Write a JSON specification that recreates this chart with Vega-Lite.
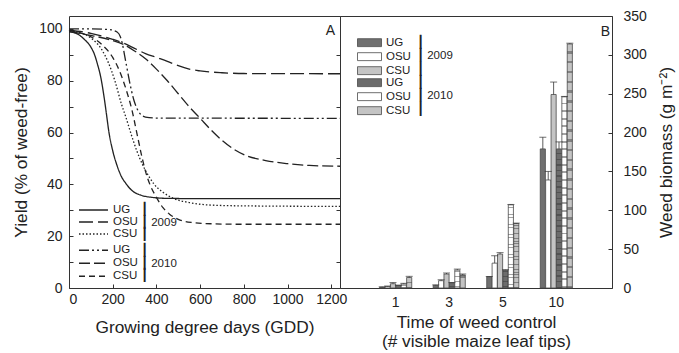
{
  "$schema": "https://vega.github.io/schema/vega-lite/v6.json",
  "padding": {"left": 12, "top": 8, "right": 2, "bottom": 2},
  "spacing": 0,
  "bounds": "flush",
  "config": {
    "font": "Liberation Sans",
    "view": {"stroke": "#333", "strokeWidth": 1},
    "axis": {"labelFontSize": 14, "titleFontSize": 17.3, "titleFontWeight": "normal", "labelColor": "#222", "titleColor": "#222", "domainColor": "#333", "tickColor": "#333", "grid": false},
    "legend": {"labelFontSize": 11.5, "titleFontSize": 11.5, "titleFontWeight": "normal", "labelColor": "#222", "titleColor": "#222", "rowPadding": 0, "padding": 0, "titlePadding": 3, "labelOffset": 4, "titleLineHeight": 12.5, "titleAlign": "left", "orient": "none"}
  },
  "datasets": {
    "curves": [
      {"series": "UG 2009", "gdd": 0, "yield": 99}, {"series": "UG 2009", "gdd": 40, "yield": 98}, {"series": "UG 2009", "gdd": 70, "yield": 96}, {"series": "UG 2009", "gdd": 100, "yield": 93}, {"series": "UG 2009", "gdd": 115, "yield": 90.5}, {"series": "UG 2009", "gdd": 130, "yield": 86.5}, {"series": "UG 2009", "gdd": 145, "yield": 81.5}, {"series": "UG 2009", "gdd": 160, "yield": 74}, {"series": "UG 2009", "gdd": 170, "yield": 68}, {"series": "UG 2009", "gdd": 183, "yield": 60}, {"series": "UG 2009", "gdd": 200, "yield": 53}, {"series": "UG 2009", "gdd": 221, "yield": 47}, {"series": "UG 2009", "gdd": 240, "yield": 43}, {"series": "UG 2009", "gdd": 259, "yield": 40.5}, {"series": "UG 2009", "gdd": 290, "yield": 37.5}, {"series": "UG 2009", "gdd": 330, "yield": 35.8}, {"series": "UG 2009", "gdd": 380, "yield": 35}, {"series": "UG 2009", "gdd": 450, "yield": 34.6}, {"series": "UG 2009", "gdd": 600, "yield": 34.5}, {"series": "UG 2009", "gdd": 1240, "yield": 34.5},
      {"series": "OSU 2009", "gdd": 0, "yield": 99.5}, {"series": "OSU 2009", "gdd": 100, "yield": 98.3}, {"series": "OSU 2009", "gdd": 200, "yield": 96}, {"series": "OSU 2009", "gdd": 250, "yield": 94.5}, {"series": "OSU 2009", "gdd": 300, "yield": 92.5}, {"series": "OSU 2009", "gdd": 350, "yield": 90.5}, {"series": "OSU 2009", "gdd": 400, "yield": 89}, {"series": "OSU 2009", "gdd": 450, "yield": 87.5}, {"series": "OSU 2009", "gdd": 500, "yield": 85.8}, {"series": "OSU 2009", "gdd": 550, "yield": 84.5}, {"series": "OSU 2009", "gdd": 600, "yield": 83.8}, {"series": "OSU 2009", "gdd": 700, "yield": 83.1}, {"series": "OSU 2009", "gdd": 800, "yield": 82.8}, {"series": "OSU 2009", "gdd": 1240, "yield": 82.7},
      {"series": "CSU 2009", "gdd": 0, "yield": 99}, {"series": "CSU 2009", "gdd": 50, "yield": 98.5}, {"series": "CSU 2009", "gdd": 100, "yield": 96.5}, {"series": "CSU 2009", "gdd": 150, "yield": 92}, {"series": "CSU 2009", "gdd": 180, "yield": 87}, {"series": "CSU 2009", "gdd": 210, "yield": 80}, {"series": "CSU 2009", "gdd": 240, "yield": 71}, {"series": "CSU 2009", "gdd": 260, "yield": 66}, {"series": "CSU 2009", "gdd": 282, "yield": 60}, {"series": "CSU 2009", "gdd": 310, "yield": 53}, {"series": "CSU 2009", "gdd": 340, "yield": 47}, {"series": "CSU 2009", "gdd": 370, "yield": 42.5}, {"series": "CSU 2009", "gdd": 390, "yield": 40}, {"series": "CSU 2009", "gdd": 430, "yield": 37}, {"series": "CSU 2009", "gdd": 480, "yield": 34.5}, {"series": "CSU 2009", "gdd": 550, "yield": 33}, {"series": "CSU 2009", "gdd": 650, "yield": 32}, {"series": "CSU 2009", "gdd": 800, "yield": 31.7}, {"series": "CSU 2009", "gdd": 1240, "yield": 31.5},
      {"series": "UG 2010", "gdd": 0, "yield": 100}, {"series": "UG 2010", "gdd": 100, "yield": 100}, {"series": "UG 2010", "gdd": 180, "yield": 99.8}, {"series": "UG 2010", "gdd": 220, "yield": 98.8}, {"series": "UG 2010", "gdd": 235, "yield": 97}, {"series": "UG 2010", "gdd": 245, "yield": 94}, {"series": "UG 2010", "gdd": 255, "yield": 89.5}, {"series": "UG 2010", "gdd": 265, "yield": 85}, {"series": "UG 2010", "gdd": 275, "yield": 80.5}, {"series": "UG 2010", "gdd": 285, "yield": 76.5}, {"series": "UG 2010", "gdd": 297, "yield": 72.5}, {"series": "UG 2010", "gdd": 310, "yield": 69.5}, {"series": "UG 2010", "gdd": 328, "yield": 67}, {"series": "UG 2010", "gdd": 350, "yield": 66}, {"series": "UG 2010", "gdd": 400, "yield": 65.6}, {"series": "UG 2010", "gdd": 1240, "yield": 65.5},
      {"series": "OSU 2010", "gdd": 0, "yield": 99}, {"series": "OSU 2010", "gdd": 100, "yield": 97.5}, {"series": "OSU 2010", "gdd": 200, "yield": 95.5}, {"series": "OSU 2010", "gdd": 250, "yield": 94}, {"series": "OSU 2010", "gdd": 300, "yield": 91.5}, {"series": "OSU 2010", "gdd": 350, "yield": 88.5}, {"series": "OSU 2010", "gdd": 400, "yield": 84.5}, {"series": "OSU 2010", "gdd": 450, "yield": 80}, {"series": "OSU 2010", "gdd": 500, "yield": 75}, {"series": "OSU 2010", "gdd": 550, "yield": 70}, {"series": "OSU 2010", "gdd": 600, "yield": 65.5}, {"series": "OSU 2010", "gdd": 650, "yield": 61}, {"series": "OSU 2010", "gdd": 700, "yield": 57}, {"series": "OSU 2010", "gdd": 750, "yield": 53.8}, {"series": "OSU 2010", "gdd": 800, "yield": 51.5}, {"series": "OSU 2010", "gdd": 900, "yield": 49.2}, {"series": "OSU 2010", "gdd": 1000, "yield": 48}, {"series": "OSU 2010", "gdd": 1100, "yield": 47.3}, {"series": "OSU 2010", "gdd": 1240, "yield": 47},
      {"series": "CSU 2010", "gdd": 0, "yield": 99.5}, {"series": "CSU 2010", "gdd": 50, "yield": 98.5}, {"series": "CSU 2010", "gdd": 100, "yield": 97}, {"series": "CSU 2010", "gdd": 150, "yield": 94}, {"series": "CSU 2010", "gdd": 200, "yield": 89}, {"series": "CSU 2010", "gdd": 230, "yield": 84}, {"series": "CSU 2010", "gdd": 260, "yield": 77}, {"series": "CSU 2010", "gdd": 290, "yield": 68}, {"series": "CSU 2010", "gdd": 310, "yield": 60}, {"series": "CSU 2010", "gdd": 330, "yield": 52}, {"series": "CSU 2010", "gdd": 350, "yield": 45}, {"series": "CSU 2010", "gdd": 370, "yield": 40}, {"series": "CSU 2010", "gdd": 400, "yield": 35}, {"series": "CSU 2010", "gdd": 430, "yield": 31}, {"series": "CSU 2010", "gdd": 460, "yield": 28.5}, {"series": "CSU 2010", "gdd": 500, "yield": 26.5}, {"series": "CSU 2010", "gdd": 560, "yield": 25.3}, {"series": "CSU 2010", "gdd": 650, "yield": 24.8}, {"series": "CSU 2010", "gdd": 800, "yield": 24.6}, {"series": "CSU 2010", "gdd": 1240, "yield": 24.6}
    ],
    "bars": [
      {"leaf": "1", "series": "UG 2009", "biomass": 1, "upper": 1.5},
      {"leaf": "1", "series": "OSU 2009", "biomass": 2, "upper": 2.5},
      {"leaf": "1", "series": "CSU 2009", "biomass": 5.5, "upper": 7},
      {"leaf": "1", "series": "UG 2010", "biomass": 3.5, "upper": 3.5},
      {"leaf": "1", "series": "OSU 2010", "biomass": 5, "upper": 6},
      {"leaf": "1", "series": "CSU 2010", "biomass": 13.5, "upper": 15},
      {"leaf": "3", "series": "UG 2009", "biomass": 3.4, "upper": 4},
      {"leaf": "3", "series": "OSU 2009", "biomass": 9.4, "upper": 10.6},
      {"leaf": "3", "series": "CSU 2009", "biomass": 18, "upper": 19.3},
      {"leaf": "3", "series": "UG 2010", "biomass": 6.8, "upper": 7},
      {"leaf": "3", "series": "OSU 2010", "biomass": 23, "upper": 24.3},
      {"leaf": "3", "series": "CSU 2010", "biomass": 16.7, "upper": 18},
      {"leaf": "5", "series": "UG 2009", "biomass": 14.5, "upper": 14.8},
      {"leaf": "5", "series": "OSU 2009", "biomass": 32, "upper": 41.5},
      {"leaf": "5", "series": "CSU 2009", "biomass": 43.7, "upper": 45.5},
      {"leaf": "5", "series": "UG 2010", "biomass": 23, "upper": 23.5},
      {"leaf": "5", "series": "OSU 2010", "biomass": 107, "upper": 107.5},
      {"leaf": "5", "series": "CSU 2010", "biomass": 83, "upper": 83.5},
      {"leaf": "10", "series": "UG 2009", "biomass": 179, "upper": 194},
      {"leaf": "10", "series": "OSU 2009", "biomass": 139, "upper": 150},
      {"leaf": "10", "series": "CSU 2009", "biomass": 249, "upper": 265},
      {"leaf": "10", "series": "UG 2010", "biomass": 179, "upper": 188},
      {"leaf": "10", "series": "OSU 2010", "biomass": 246, "upper": 246.5},
      {"leaf": "10", "series": "CSU 2010", "biomass": 314, "upper": 315}
    ]
  },
  "hconcat": [
    {
      "width": 271,
      "height": 272,
      "data": {"name": "curves"},
      "title": {"text": "A", "anchor": "end", "frame": "group", "offset": -22, "dx": -5, "fontSize": 14, "fontWeight": "normal", "color": "#222"},
      "layer": [
        {
          "transform": [{"filter": {"field": "series", "oneOf": ["UG 2009", "OSU 2009", "CSU 2009"]}}],
          "mark": {"type": "line", "color": "#222", "strokeWidth": 1.3, "interpolate": "monotone"},
          "encoding": {
            "x": {"field": "gdd", "type": "quantitative", "scale": {"domain": [0, 1240], "nice": false}, "axis": {"title": "Growing degree days (GDD)", "values": [0, 100, 200, 300, 400, 500, 600, 700, 800, 900, 1000, 1100, 1200], "format": "d", "labelExpr": "datum.value % 200 == 0 ? datum.label : ''", "tickSize": -4, "labelPadding": 8, "titlePadding": 12, "domain": false}},
            "y": {"field": "yield", "type": "quantitative", "scale": {"domain": [0, 105], "nice": false}, "axis": {"title": "Yield (% of weed-free)", "values": [0, 10, 20, 30, 40, 50, 60, 70, 80, 90, 100], "labelExpr": "datum.value % 20 == 0 ? datum.label : ''", "tickSize": -4, "labelPadding": 11, "titlePadding": 8, "domain": false}},
            "strokeDash": {"field": "series", "type": "nominal", "scale": {"domain": ["UG 2009", "OSU 2009", "CSU 2009"], "range": [[1, 0], [14, 5], [1.5, 2]]}, "legend": {"orient": "none", "legendX": 9, "legendY": 188, "clipHeight": 12, "title": ["┃", "┃ 2009", "┃"], "titleOrient": "right", "labelExpr": "split(datum.label, ' ')[0]", "symbolType": "stroke", "symbolSize": 840, "symbolStrokeColor": "#222", "symbolStrokeWidth": 1.3}}
          }
        },
        {
          "transform": [{"filter": {"field": "series", "oneOf": ["UG 2010", "OSU 2010", "CSU 2010"]}}],
          "mark": {"type": "line", "color": "#222", "strokeWidth": 1.3, "interpolate": "monotone"},
          "encoding": {
            "x": {"field": "gdd", "type": "quantitative"},
            "y": {"field": "yield", "type": "quantitative", "axis": {"orient": "right", "title": null, "values": [10, 30, 50, 70, 90], "labels": false, "tickSize": -4, "domain": false, "minExtent": 0, "maxExtent": 0}},
            "strokeDash": {"field": "series", "type": "nominal", "scale": {"domain": ["UG 2010", "OSU 2010", "CSU 2010"], "range": [[10, 3, 2, 3, 2, 3], [11, 4], [6, 4]]}, "legend": {"orient": "none", "legendX": 9, "legendY": 228, "clipHeight": 12.5, "title": ["┃", "┃ 2010", "┃"], "titleOrient": "right", "labelExpr": "split(datum.label, ' ')[0]", "symbolType": "stroke", "symbolSize": 840, "symbolStrokeColor": "#222", "symbolStrokeWidth": 1.3}}
          }
        }
      ],
      "resolve": {"scale": {"strokeDash": "independent"}, "axis": {"y": "independent"}}
    },
    {
      "width": 272,
      "height": 272,
      "data": {"name": "bars"},
      "title": {"text": "B", "anchor": "end", "frame": "group", "offset": -30, "dx": -2, "fontSize": 14, "fontWeight": "normal", "color": "#222"},
      "encoding": {
        "x": {"field": "leaf", "type": "ordinal", "sort": ["1", "3", "5", "10"], "scale": {"paddingInner": 0.4, "paddingOuter": 0.74}, "axis": {"title": ["Time of weed control", "(# visible maize leaf tips)"], "titleLineHeight": 19, "labelAngle": 0, "ticks": false, "domain": false, "labelPadding": 7, "titlePadding": 4}},
        "y": {"field": "biomass", "type": "quantitative", "scale": {"domain": [0, 350], "nice": false}, "axis": {"orient": "right", "title": "Weed biomass (g m⁻²)", "titleAngle": 270, "values": [0, 50, 100, 150, 200, 250, 300, 350], "tickSize": -4, "labelPadding": 15, "titlePadding": 29, "domain": false}},
        "xOffset": {"field": "series", "type": "nominal", "scale": {"domain": ["UG 2009", "OSU 2009", "CSU 2009", "UG 2010", "OSU 2010", "CSU 2010"], "paddingInner": 0.05}}
      },
      "layer": [
        {
          "transform": [{"filter": {"field": "series", "oneOf": ["UG 2009", "OSU 2009", "CSU 2009"]}}],
          "mark": {"type": "bar", "stroke": "#4a4a4a", "strokeWidth": 0.8},
          "encoding": {
            "fill": {"field": "series", "type": "nominal", "scale": {"domain": ["UG 2009", "OSU 2009", "CSU 2009"], "range": ["#707070", "#ffffff", "#c4c4c4"]}, "legend": {"orient": "none", "legendX": 17, "legendY": 20, "clipHeight": 13.3, "title": ["┃", "┃ 2009", "┃"], "titleOrient": "right", "titlePadding": 6, "titleLineHeight": 13.3, "labelExpr": "split(datum.label, ' ')[0]", "symbolType": "M-1,-0.33H1V0.33H-1Z", "symbolSize": 576, "symbolStrokeColor": "#4a4a4a", "symbolStrokeWidth": 0.8}}
          }
        },
        {
          "transform": [{"filter": {"field": "series", "oneOf": ["UG 2010", "OSU 2010", "CSU 2010"]}}],
          "mark": {"type": "bar", "stroke": "#4a4a4a", "strokeWidth": 0.8},
          "encoding": {
            "fill": {"field": "series", "type": "nominal", "scale": {"domain": ["UG 2010", "OSU 2010", "CSU 2010"], "range": ["#6c6c6c", "#ffffff", "#c4c4c4"]}, "legend": {"orient": "none", "legendX": 17, "legendY": 60, "clipHeight": 13.3, "title": ["┃", "┃ 2010", "┃"], "titleOrient": "right", "titlePadding": 6, "titleLineHeight": 13.3, "labelExpr": "split(datum.label, ' ')[0]", "symbolType": "M-1,-0.33H1V0.33H-1Z", "symbolSize": 576, "symbolStrokeColor": "#4a4a4a", "symbolStrokeWidth": 0.8}}
          }
        },
        {
          "transform": [{"filter": {"field": "series", "oneOf": ["UG 2010", "OSU 2010", "CSU 2010"]}}],
          "mark": {"type": "bar", "strokeWidth": 0, "fill": {"gradient": "linear", "x1": 0, "y1": 0, "x2": 0, "y2": 1, "stops": [{"offset":0,"color":"rgba(50,50,50,0)"},{"offset":0.03,"color":"rgba(50,50,50,0)"},{"offset":0.03,"color":"rgba(50,50,50,0.45)"},{"offset":0.04,"color":"rgba(50,50,50,0.45)"},{"offset":0.04,"color":"rgba(50,50,50,0)"},{"offset":0.07,"color":"rgba(50,50,50,0)"},{"offset":0.07,"color":"rgba(50,50,50,0.45)"},{"offset":0.08,"color":"rgba(50,50,50,0.45)"},{"offset":0.08,"color":"rgba(50,50,50,0)"},{"offset":0.11,"color":"rgba(50,50,50,0)"},{"offset":0.11,"color":"rgba(50,50,50,0.45)"},{"offset":0.12,"color":"rgba(50,50,50,0.45)"},{"offset":0.12,"color":"rgba(50,50,50,0)"},{"offset":0.15,"color":"rgba(50,50,50,0)"},{"offset":0.15,"color":"rgba(50,50,50,0.45)"},{"offset":0.16,"color":"rgba(50,50,50,0.45)"},{"offset":0.16,"color":"rgba(50,50,50,0)"},{"offset":0.19,"color":"rgba(50,50,50,0)"},{"offset":0.19,"color":"rgba(50,50,50,0.45)"},{"offset":0.2,"color":"rgba(50,50,50,0.45)"},{"offset":0.2,"color":"rgba(50,50,50,0)"},{"offset":0.23,"color":"rgba(50,50,50,0)"},{"offset":0.23,"color":"rgba(50,50,50,0.45)"},{"offset":0.24,"color":"rgba(50,50,50,0.45)"},{"offset":0.24,"color":"rgba(50,50,50,0)"},{"offset":0.27,"color":"rgba(50,50,50,0)"},{"offset":0.27,"color":"rgba(50,50,50,0.45)"},{"offset":0.28,"color":"rgba(50,50,50,0.45)"},{"offset":0.28,"color":"rgba(50,50,50,0)"},{"offset":0.31,"color":"rgba(50,50,50,0)"},{"offset":0.31,"color":"rgba(50,50,50,0.45)"},{"offset":0.32,"color":"rgba(50,50,50,0.45)"},{"offset":0.32,"color":"rgba(50,50,50,0)"},{"offset":0.35,"color":"rgba(50,50,50,0)"},{"offset":0.35,"color":"rgba(50,50,50,0.45)"},{"offset":0.36,"color":"rgba(50,50,50,0.45)"},{"offset":0.36,"color":"rgba(50,50,50,0)"},{"offset":0.39,"color":"rgba(50,50,50,0)"},{"offset":0.39,"color":"rgba(50,50,50,0.45)"},{"offset":0.4,"color":"rgba(50,50,50,0.45)"},{"offset":0.4,"color":"rgba(50,50,50,0)"},{"offset":0.43,"color":"rgba(50,50,50,0)"},{"offset":0.43,"color":"rgba(50,50,50,0.45)"},{"offset":0.44,"color":"rgba(50,50,50,0.45)"},{"offset":0.44,"color":"rgba(50,50,50,0)"},{"offset":0.47,"color":"rgba(50,50,50,0)"},{"offset":0.47,"color":"rgba(50,50,50,0.45)"},{"offset":0.48,"color":"rgba(50,50,50,0.45)"},{"offset":0.48,"color":"rgba(50,50,50,0)"},{"offset":0.51,"color":"rgba(50,50,50,0)"},{"offset":0.51,"color":"rgba(50,50,50,0.45)"},{"offset":0.52,"color":"rgba(50,50,50,0.45)"},{"offset":0.52,"color":"rgba(50,50,50,0)"},{"offset":0.55,"color":"rgba(50,50,50,0)"},{"offset":0.55,"color":"rgba(50,50,50,0.45)"},{"offset":0.56,"color":"rgba(50,50,50,0.45)"},{"offset":0.56,"color":"rgba(50,50,50,0)"},{"offset":0.59,"color":"rgba(50,50,50,0)"},{"offset":0.59,"color":"rgba(50,50,50,0.45)"},{"offset":0.6,"color":"rgba(50,50,50,0.45)"},{"offset":0.6,"color":"rgba(50,50,50,0)"},{"offset":0.63,"color":"rgba(50,50,50,0)"},{"offset":0.63,"color":"rgba(50,50,50,0.45)"},{"offset":0.64,"color":"rgba(50,50,50,0.45)"},{"offset":0.64,"color":"rgba(50,50,50,0)"},{"offset":0.67,"color":"rgba(50,50,50,0)"},{"offset":0.67,"color":"rgba(50,50,50,0.45)"},{"offset":0.68,"color":"rgba(50,50,50,0.45)"},{"offset":0.68,"color":"rgba(50,50,50,0)"},{"offset":0.71,"color":"rgba(50,50,50,0)"},{"offset":0.71,"color":"rgba(50,50,50,0.45)"},{"offset":0.72,"color":"rgba(50,50,50,0.45)"},{"offset":0.72,"color":"rgba(50,50,50,0)"},{"offset":0.75,"color":"rgba(50,50,50,0)"},{"offset":0.75,"color":"rgba(50,50,50,0.45)"},{"offset":0.76,"color":"rgba(50,50,50,0.45)"},{"offset":0.76,"color":"rgba(50,50,50,0)"},{"offset":0.79,"color":"rgba(50,50,50,0)"},{"offset":0.79,"color":"rgba(50,50,50,0.45)"},{"offset":0.8,"color":"rgba(50,50,50,0.45)"},{"offset":0.8,"color":"rgba(50,50,50,0)"},{"offset":0.83,"color":"rgba(50,50,50,0)"},{"offset":0.83,"color":"rgba(50,50,50,0.45)"},{"offset":0.84,"color":"rgba(50,50,50,0.45)"},{"offset":0.84,"color":"rgba(50,50,50,0)"},{"offset":0.87,"color":"rgba(50,50,50,0)"},{"offset":0.87,"color":"rgba(50,50,50,0.45)"},{"offset":0.88,"color":"rgba(50,50,50,0.45)"},{"offset":0.88,"color":"rgba(50,50,50,0)"},{"offset":0.91,"color":"rgba(50,50,50,0)"},{"offset":0.91,"color":"rgba(50,50,50,0.45)"},{"offset":0.92,"color":"rgba(50,50,50,0.45)"},{"offset":0.92,"color":"rgba(50,50,50,0)"},{"offset":0.95,"color":"rgba(50,50,50,0)"},{"offset":0.95,"color":"rgba(50,50,50,0.45)"},{"offset":0.96,"color":"rgba(50,50,50,0.45)"},{"offset":0.96,"color":"rgba(50,50,50,0)"},{"offset":0.99,"color":"rgba(50,50,50,0)"},{"offset":0.99,"color":"rgba(50,50,50,0.45)"},{"offset":1,"color":"rgba(50,50,50,0.45)"}]}}
        },
        {
          "mark": {"type": "rule", "color": "#333", "strokeWidth": 0.8},
          "encoding": {"y2": {"field": "upper"}}
        },
        {
          "mark": {"type": "tick", "color": "#333", "thickness": 1, "size": 7},
          "encoding": {"y": {"field": "upper", "type": "quantitative", "title": "Weed biomass (g m⁻²)"}}
        }
      ],
      "resolve": {"scale": {"fill": "independent"}}
    }
  ]
}
